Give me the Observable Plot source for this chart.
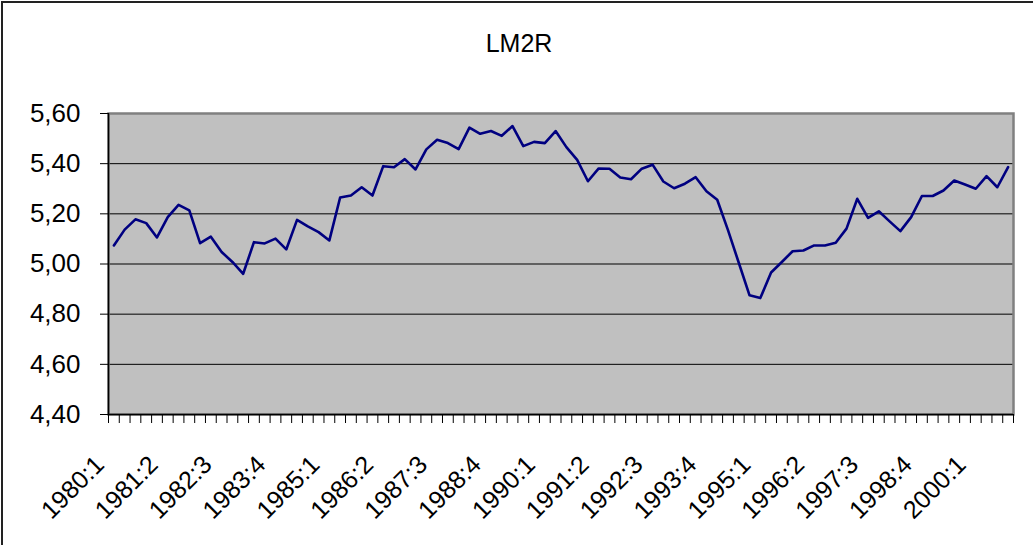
<!DOCTYPE html>
<html><head><meta charset="utf-8">
<script src="https://cdn.jsdelivr.net/npm/d3@7"></script>
<script src="https://cdn.jsdelivr.net/npm/@observablehq/plot@0.6"></script>
<style>
html,body{margin:0;padding:0;background:#fff;overflow:hidden;}
#wrap{position:relative;width:1033px;height:545px;overflow:hidden;}
#border{position:absolute;left:1px;top:1px;width:1100px;height:600px;border:2px solid #222;box-sizing:border-box;pointer-events:none;}
</style></head><body>
<div id="wrap"><div id="chart"></div><div id="border"></div></div>
<script>
const title = "LM2R";
const startYear = 1980;
const values = [
  5.074, 5.137, 5.178, 5.163, 5.106, 5.187, 5.236, 5.214, 5.083, 5.109,
  5.048, 5.008, 4.961, 5.087, 5.082, 5.101, 5.058, 5.176, 5.150, 5.127,
  5.094, 5.265, 5.273, 5.306, 5.273, 5.390, 5.386, 5.418, 5.377, 5.457,
  5.495, 5.482, 5.458, 5.544, 5.519, 5.530, 5.511, 5.550, 5.470, 5.487,
  5.482, 5.530, 5.466, 5.415, 5.330, 5.381, 5.380, 5.345, 5.338, 5.380,
  5.396, 5.329, 5.302, 5.320, 5.346, 5.290, 5.256, 5.135, 5.005, 4.875,
  4.864, 4.966, 5.008, 5.051, 5.054, 5.074, 5.074, 5.085, 5.141, 5.260,
  5.184, 5.210, 5.170, 5.131, 5.187, 5.271, 5.271, 5.293, 5.333, 5.317,
  5.300, 5.350, 5.306, 5.386
];
const tickLabels = ["1980:1","1981:2","1982:3","1983:4","1985:1","1986:2","1987:3","1988:4","1990:1","1991:2","1992:3","1993:4","1995:1","1996:2","1997:3","1998:4","2000:1"];
const yTicks = [4.4, 4.6, 4.8, 5.0, 5.2, 5.4, 5.6];

const quarters = values.map((_, i) => `${startYear + Math.floor(i / 4)}:${i % 4 + 1}`);
const data = values.map((v, i) => ({q: quarters[i], pos: i + 0.5, v}));
const labelData = tickLabels.map(t => ({t, pos: quarters.indexOf(t) + 0.5}));
const boundaries = d3.range(values.length + 1);
const fmt = d => d3.format(".2f")(d).replace(".", ",");
const font = "'Liberation Sans', Arial, sans-serif";

const plot = Plot.plot({
  width: 1033, height: 545,
  marginLeft: 108, marginRight: 20, marginTop: 113, marginBottom: 131,
  style: {fontFamily: font, background: "transparent", overflow: "visible", color: "#000"},
  x: {domain: [0, values.length], axis: null},
  y: {domain: [4.4, 5.6], axis: null},
  marks: [
    Plot.frame({fill: "#C0C0C0", stroke: "none"}),
    Plot.ruleY(yTicks, {stroke: "#000", strokeWidth: 1}),
    Plot.frame({fill: "none", stroke: "#808080", strokeWidth: 2.5}),
    Plot.ruleX([0], {stroke: "#000", strokeWidth: 1.5}),
    Plot.ruleY([4.4], {stroke: "#000", strokeWidth: 1.5}),
    Plot.axisX({ticks: boundaries, tickSize: 9, tickFormat: () => "", stroke: "#000", label: null}),
    Plot.axisY({ticks: yTicks, tickSize: 8, tickPadding: 20, tickFormat: fmt, fontSize: 26, fill: "#000", stroke: "#000", label: null}),
    Plot.text(labelData, {x: "pos", text: "t", frameAnchor: "bottom", dy: 46, dx: -14, rotate: -45, textAnchor: "end", lineAnchor: "middle", fontSize: 25, fill: "#000"}),
    Plot.line(data, {x: "pos", y: "v", stroke: "#000080", strokeWidth: 2.6}),
    Plot.text([title], {frameAnchor: "top", dx: -42, dy: -79, fontSize: 25, fill: "#000"})
  ]
});
document.getElementById("chart").appendChild(plot);
</script>
</body></html>
